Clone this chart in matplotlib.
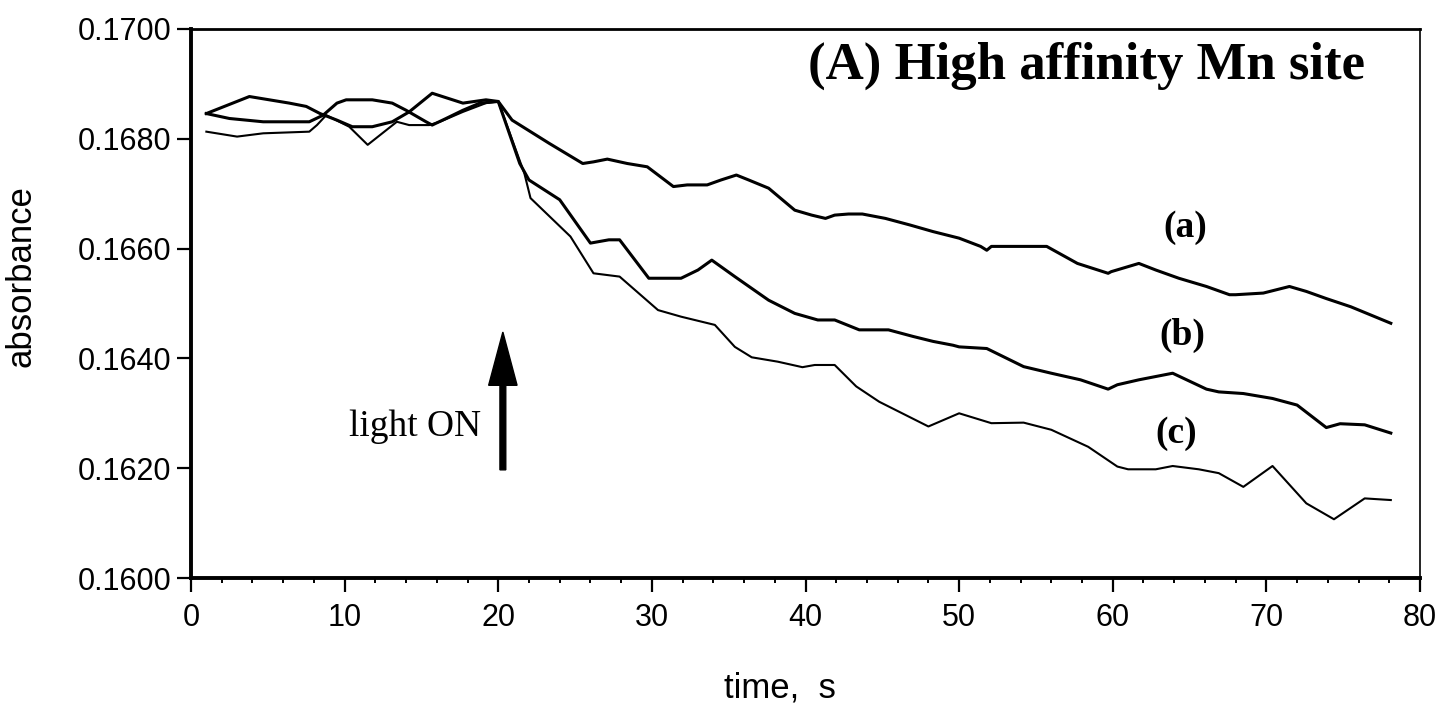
import matplotlib
matplotlib.use("Agg")
import matplotlib.pyplot as plt
from matplotlib.ticker import MultipleLocator, FormatStrFormatter

# traces (time in s, absorbance)
t_a = [1.0, 3.8, 5.1, 6.4, 7.5, 8.4, 9.5, 10.5, 11.8, 13.1, 14.2, 15.7, 17.7, 19.2, 20.0,
       20.9, 23.3, 25.5, 26.2, 27.1, 28.4, 29.7, 31.4, 32.3, 33.6, 34.5, 35.5, 36.3, 37.6,
       39.3, 40.4, 41.3, 41.9, 42.8, 43.7, 45.2, 46.8, 48.3, 50.0, 51.4, 51.8, 52.1, 55.7,
       57.7, 59.7, 59.9, 61.7, 62.8, 64.3, 66.1, 67.6, 68.0, 69.8, 71.5, 72.6, 73.9, 75.5, 78.1]
abs_a = [0.16846, 0.16877, 0.16871, 0.16865, 0.16859, 0.16846, 0.16834, 0.16822, 0.16822,
         0.16831, 0.16849, 0.16883, 0.16865, 0.16871, 0.16868,
         0.16834, 0.16792, 0.16755, 0.16758, 0.16763, 0.16755, 0.16749, 0.16713, 0.16716,
         0.16716, 0.16725, 0.16734, 0.16725, 0.16710, 0.16670, 0.16661, 0.16655, 0.16661,
         0.16663, 0.16663, 0.16655, 0.16643, 0.16631, 0.16619, 0.16604, 0.16597, 0.16604,
         0.16604, 0.16573, 0.16555, 0.16558, 0.16573, 0.16561, 0.16546, 0.16531, 0.16516,
         0.16516, 0.16519, 0.16531, 0.16522, 0.16509, 0.16494, 0.16464]

t_b = [1.0, 2.5, 4.7, 7.7, 8.6, 9.5, 10.1, 11.8, 13.1, 14.0, 15.3, 15.7, 16.6, 17.7, 18.8, 20.0,
       21.4, 22.0, 24.0, 26.0, 27.2, 27.9, 29.8, 31.9, 33.0, 33.9, 35.4, 37.6, 39.3, 40.8,
       41.9, 43.5, 45.4, 47.0, 48.3, 49.6, 50.0, 51.8, 54.2, 56.0, 57.9, 59.7, 60.3, 61.7,
       63.9, 66.1, 66.9, 68.5, 70.4, 72.0, 73.9, 74.8, 76.4, 78.1]
abs_b = [0.16846, 0.16837, 0.16831, 0.16831, 0.16843, 0.16865, 0.16871, 0.16871, 0.16865,
         0.16852, 0.16831, 0.16825, 0.16837, 0.16852, 0.16865, 0.16868,
         0.16755, 0.16725, 0.16689, 0.16610, 0.16616, 0.16616, 0.16546, 0.16546, 0.16561,
         0.16579, 0.16549, 0.16506, 0.16482, 0.16470, 0.16470, 0.16452, 0.16452, 0.16440,
         0.16431, 0.16424, 0.16421, 0.16418, 0.16385, 0.16373, 0.16361, 0.16344, 0.16352,
         0.16361, 0.16373, 0.16344, 0.16339, 0.16336, 0.16327, 0.16315, 0.16274, 0.16281,
         0.16279, 0.16264]

t_c = [1.0, 3.0, 4.7, 7.7, 8.2, 8.8, 10.3, 11.5, 13.4, 14.2, 15.5, 16.2, 17.7, 19.2, 20.0,
       21.7, 22.1, 24.7, 26.2, 27.9, 30.4, 31.9, 34.1, 35.4, 36.5, 38.2, 39.8, 40.6, 41.9,
       43.3, 44.8, 48.0, 50.0, 51.4, 52.1, 54.2, 56.0, 58.4, 60.3, 61.0, 62.8, 63.9, 65.6,
       66.9, 68.5, 70.4, 72.6, 74.4, 76.4, 78.1]
abs_c = [0.16813, 0.16804, 0.16810, 0.16813, 0.16825, 0.16843, 0.16822, 0.16789, 0.16831,
         0.16825, 0.16825, 0.16831, 0.16849, 0.16865, 0.16868,
         0.16737, 0.16692, 0.16622, 0.16555, 0.16549, 0.16488, 0.16476, 0.16461, 0.16421,
         0.16402, 0.16394, 0.16384, 0.16388, 0.16388, 0.16349, 0.16321, 0.16276, 0.16300,
         0.16288, 0.16282, 0.16283, 0.16270, 0.16239, 0.16203, 0.16198, 0.16198, 0.16204,
         0.16198, 0.16191, 0.16166, 0.16204, 0.16136, 0.16107, 0.16145, 0.16142]

curve_names = ["(a)", "(b)", "(c)"]
name_pos = [(64.7, 0.16639), (64.5, 0.16441), (64.1, 0.16264)]
light_on_t = 20.3
light_on_span = (0.16197, 0.16448)

serif = ["Liberation Serif", "DejaVu Serif"]
sans = ["Liberation Sans", "DejaVu Sans"]

fig = plt.figure(figsize=(14.35, 7.09), dpi=100)
ax = fig.add_axes([191 / 1435, 1 - 578 / 709, 1229 / 1435, 549 / 709])

ax.plot(t_a, abs_a, color="black", lw=2.2)
ax.plot(t_b, abs_b, color="black", lw=2.2)
ax.plot(t_c, abs_c, color="black", lw=1.5)

for name, (x, y) in zip(curve_names, name_pos):
    ax.text(x, y, name, family=serif, fontweight="bold", fontsize=27,
            ha="center", va="center")

ax.text(58.3, 0.16932, "(A) High affinity Mn site", family=serif, fontweight="bold",
        fontsize=38, ha="center", va="center")

ax.arrow(light_on_t, light_on_span[0], 0, light_on_span[1] - light_on_span[0],
         width=0.38, head_width=1.85, head_length=0.00097, length_includes_head=True,
         color="black")
ax.text(18.9, 0.16275, "light ON", family=serif, fontsize=27, ha="right", va="center")

ax.set_xlim(0, 80)
ax.set_ylim(0.16, 0.17)
ax.xaxis.set_major_locator(MultipleLocator(10))
ax.xaxis.set_minor_locator(MultipleLocator(2))
ax.yaxis.set_major_locator(MultipleLocator(0.002))
ax.yaxis.set_major_formatter(FormatStrFormatter("%.4f"))

ax.tick_params(axis="both", which="major", direction="out", length=10, width=1.6,
               labelsize=22, color="black")
ax.tick_params(axis="x", which="major", pad=8)
ax.tick_params(axis="y", which="major", pad=4)
ax.tick_params(axis="x", which="minor", direction="out", length=3.5, width=1.4)
for lab in ax.get_xticklabels() + ax.get_yticklabels():
    lab.set_family(sans)

ax.spines["left"].set_linewidth(2.8)
ax.spines["bottom"].set_linewidth(2.8)
ax.spines["top"].set_linewidth(2.0)
ax.spines["right"].set_linewidth(1.2)

ax.set_xlabel("time,  s", family=sans, fontsize=25)
ax.set_ylabel("absorbance", family=sans, fontsize=25)
ax.xaxis.set_label_coords((780 - 191) / 1229, -(672 - 578) / 549)
ax.yaxis.set_label_coords((38 - 191) / 1229, 1 - (276 - 29) / 549)

fig.savefig("out.png", dpi=100, facecolor="white")
